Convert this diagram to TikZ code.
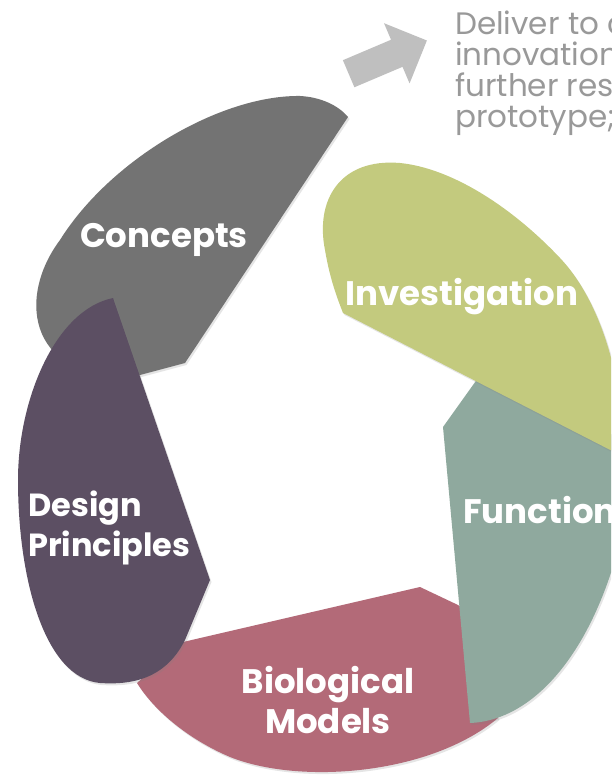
\documentclass[tikz,border=0pt]{standalone}
\usepackage{fontspec}
\setmainfont{Poppins}
\usetikzlibrary{shapes.arrows,shadows}
\definecolor{conceptgray}{HTML}{737373}
\definecolor{investgreen}{HTML}{C3CA7E}
\definecolor{functionsage}{HTML}{8FA99E}
\definecolor{modelpink}{HTML}{B36A78}
\definecolor{principlepurple}{HTML}{5C4F63}
\definecolor{arrowgray}{HTML}{BFBFBF}
\definecolor{delivergray}{HTML}{999999}
\begin{document}
\begin{tikzpicture}[x=1pt,y=-1pt,
    petal/.style={drop shadow={shadow xshift=1.5pt,shadow yshift=-2pt,opacity=0.2}},
    petallabel/.style={text=white,font=\bfseries\fontsize{34}{40}\selectfont,align=center,inner sep=0pt}]
  \useasboundingbox (0,0) rectangle (611,778);
  \clip (0,0) rectangle (611,778);
  \fill[white] (0,0) rectangle (611,778);

  \node[single arrow,fill=arrowgray,minimum height=85pt,single arrow head extend=18pt,
        inner sep=14.5pt,rotate=23] (next) at (381,60) {};
  \node[anchor=north west,inner sep=0pt,align=left,text=delivergray,
        font=\fontsize{31}{31}\selectfont] (deliver) at (455,11)
        {Deliver to c\\innovation\\further rese\\prototype;};

  % petals, back to front
  \fill[conceptgray,petal] (348,117) -- (185,363) -- (140,375)
        .. controls (30,385) and (15,300) .. (60,240)
        .. controls (110,160) and (220,95) .. (300,96)
        .. controls (320,97) and (338,105) .. (348,117) -- cycle;
  \fill[modelpink,petal] (137,683) -- (183,642) -- (420,587) -- (458,605) -- (480,620)
        -- (498,718) .. controls (430,775) and (300,785) .. (230,757)
        .. controls (190,740) and (155,712) .. (137,683) -- cycle;
  \fill[functionsage,petal] (443,427) -- (470,723)
        .. controls (540,720) and (600,640) .. (625,520) -- (625,440)
        -- (478,378) -- cycle;
  \fill[investgreen,petal] (343,313) -- (622,456)
        .. controls (625,380) and (600,300) .. (560,258)
        .. controls (510,205) and (450,168) .. (400,163)
        .. controls (340,158) and (315,200) .. (325,250)
        .. controls (330,280) and (338,300) .. (343,313) -- cycle;
  \fill[principlepurple,petal] (113,298) -- (210,580) -- (185,640)
        .. controls (165,680) and (130,685) .. (100,683)
        .. controls (45,678) and (18,580) .. (18,480)
        .. controls (18,400) and (55,310) .. (113,298) -- cycle;

  \node[petallabel]                    (concepts)  at (164,240) {Concepts};
  \node[petallabel]                    (investig)  at (462,297) {Investigation};
  \node[petallabel,anchor=west]        (function)  at (463,510) {Function};
  \node[petallabel,anchor=west,align=left,font=\bfseries\fontsize{32}{40}\selectfont]
                                       (principles) at (28,528) {Design\\Principles};
  \node[petallabel]                    (models)    at (328,700) {Biological\\Models};
\end{tikzpicture}
\end{document}
